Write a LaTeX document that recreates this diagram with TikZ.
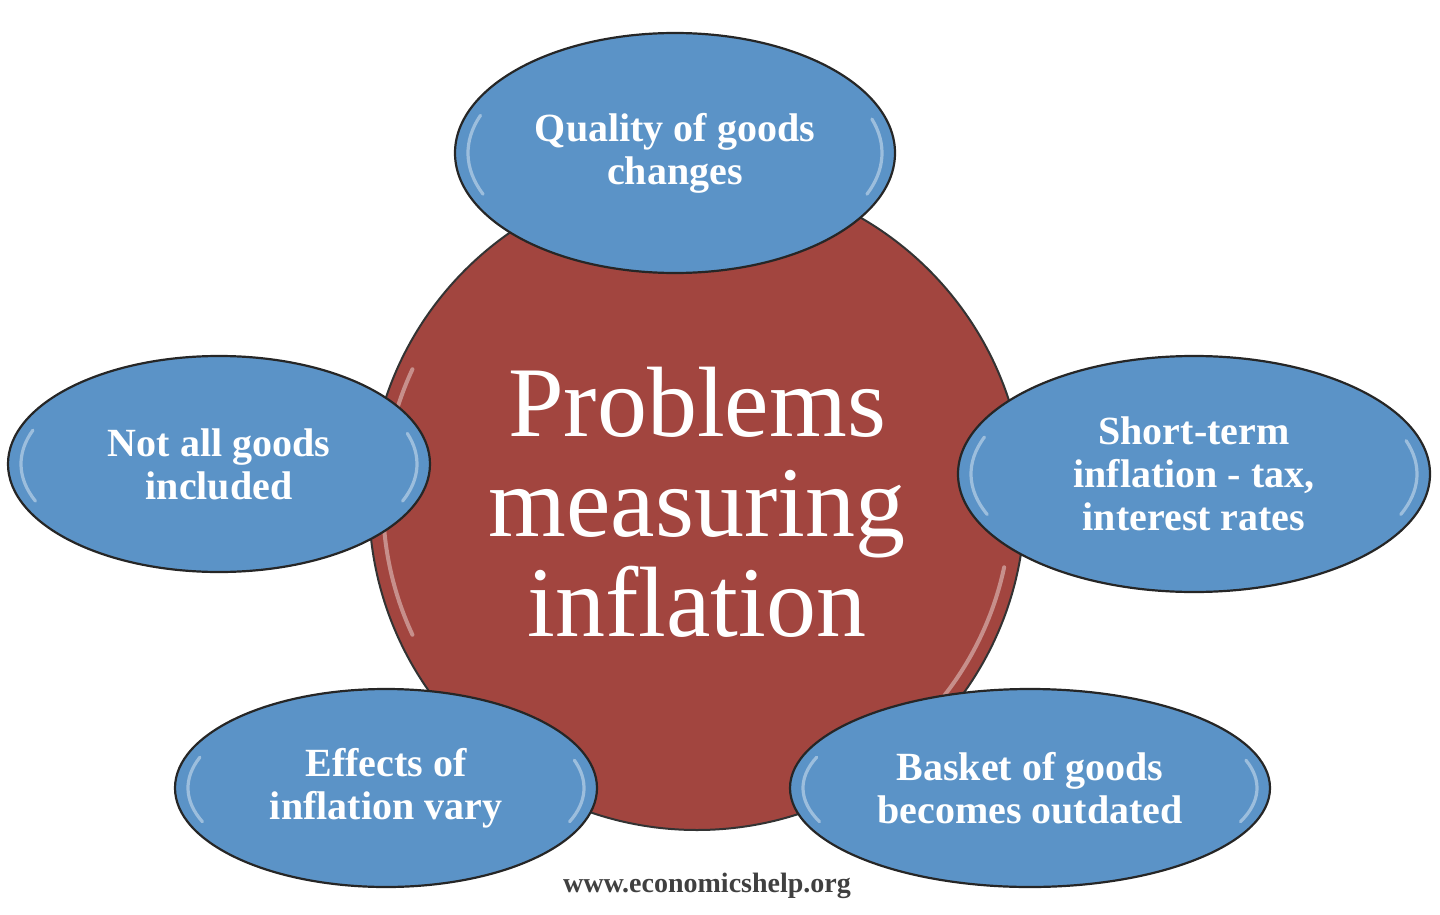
\documentclass[tikz,border=0pt]{standalone}
\usepackage{fontspec}
\setmainfont{Liberation Serif}
\usetikzlibrary{shapes.geometric}
\definecolor{bluefill}{RGB}{91,147,199}
\definecolor{redfill}{RGB}{162,69,63}
\begin{document}
\begin{tikzpicture}[x=0.5pt,y=-0.5pt]
\useasboundingbox (0,0) rectangle (1440,915);
\tikzset{
 bub/.style={ellipse, draw=black!85, line width=1.1pt, fill=bluefill, text=white,
   font=\bfseries\fontsize{20}{21.5}\selectfont, align=center, inner sep=0pt},
 gloss/.style={white, opacity=0.4, line width=1.6pt, line cap=round},
}
% central circle
\node[circle, draw=black!80, line width=1pt, fill=redfill, minimum size=328pt, inner sep=0pt,
  text=white, font=\fontsize{50}{50}\selectfont, align=center] (c) at (697,502)
  {Problems\\measuring\\inflation};
\draw[gloss, line width=2pt] ([shift={(155:314)}]c.center) arc[start angle=155,end angle=205,radius=314];
\draw[gloss, line width=2pt] ([shift={(12:314)}]c.center) arc[start angle=12,end angle=38,radius=314];
% satellites
\node[bub, minimum width=220pt, minimum height=120pt] (q) at (675,153) {Quality of goods\\changes};
\node[bub, minimum width=211pt, minimum height=108pt] (n) at (219,464) {Not all goods\\included};
\node[bub, minimum width=236pt, minimum height=118pt] (s) at (1194,474) {Short-term\\inflation - tax,\\interest rates};
\node[bub, minimum width=211pt, minimum height=99pt] (e) at (386,788) {Effects of\\inflation vary};
\node[bub, minimum width=240pt, minimum height=99pt] (b) at (1030,788) {Basket of goods\\becomes outdated};
% gloss highlights
\foreach \nm/\rx/\ry in {q/207/110, n/198/99, s/223/108, e/198/90, b/227/90}{
  \draw[gloss] ([shift={(158:{\rx} and {\ry})}]\nm.center) arc[start angle=158,end angle=200,x radius=\rx,y radius=\ry];
  \draw[gloss] ([shift={(-18:{\rx} and {\ry})}]\nm.center) arc[start angle=-18,end angle=22,x radius=\rx,y radius=\ry];
}
\node[font=\bfseries\fontsize{14}{14}\selectfont, text=black!75] (w) at (707,886) {www.economicshelp.org};
\end{tikzpicture}
\end{document}
